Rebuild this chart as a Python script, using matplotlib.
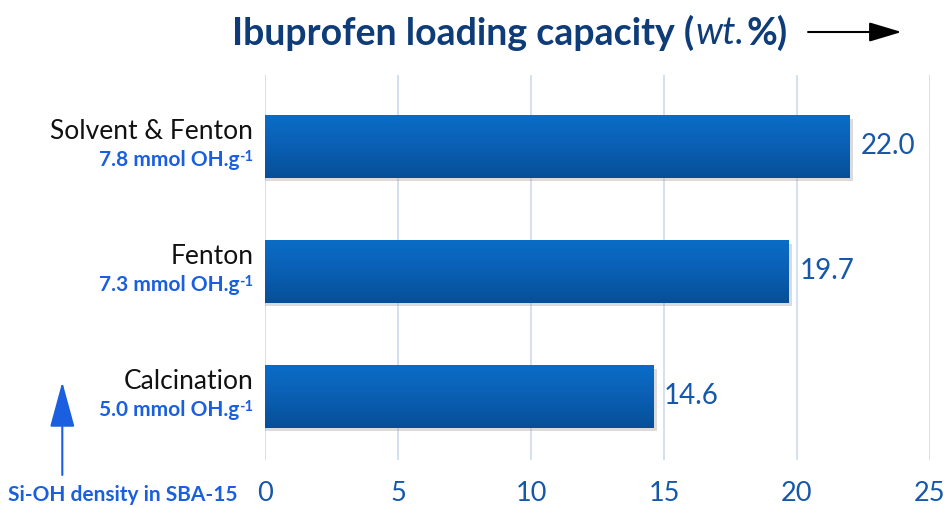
import numpy as np
import matplotlib
matplotlib.use('Agg')
import matplotlib.pyplot as plt
from matplotlib.colors import LinearSegmentedColormap
from matplotlib.patches import FancyArrowPatch

plt.rcParams['font.family'] = ['Lato', 'DejaVu Sans']

# data
methods = ['Calcination', 'Fenton', 'Solvent & Fenton']
oh_density = ['5.0', '7.3', '7.8']
loading = [14.6, 19.7, 22.0]
xticks = [0, 5, 10, 15, 20, 25]

title_col = '#0d3c78'
value_col = '#1557a8'
sub_col = '#1a5fe0'

fig = plt.figure(figsize=(9.44, 5.08), dpi=100)
ax = fig.add_axes([0.281, 0.094, 0.704, 0.758])

bar_h = 0.5
bar_cmap = LinearSegmentedColormap.from_list('bar', ['#0b6cc6', '#0a5fb3', '#064f98'])
grad = np.linspace(0, 1, 64).reshape(-1, 1)

ypos = np.arange(len(methods))
for y, v in zip(ypos, loading):
    # soft shadow
    ax.barh(y - 0.03, v + 0.12, height=bar_h, left=0, color='#999999', alpha=0.35, zorder=2, linewidth=0)
    ax.imshow(grad, extent=[0, v, y - bar_h / 2, y + bar_h / 2], aspect='auto',
              cmap=bar_cmap, origin='upper', zorder=3)
    ax.text(v + 0.4, y, f'{v:.1f}', va='center', ha='left', fontsize=20, color=value_col, zorder=4)

ax.set_xlim(0, 25)
ax.set_ylim(-0.51, 2.57)
ax.set_xticks(xticks)
ax.set_xticklabels([str(t) for t in xticks], fontsize=19.5, color=value_col)
ax.tick_params(axis='x', length=0, pad=15)
ax.set_yticks([])
ax.grid(axis='x', color='#cddcee', linewidth=1.2, zorder=0)
ax.set_axisbelow(True)
for s in ax.spines.values():
    s.set_visible(False)

# category labels with OH density below
for y, name, oh in zip(ypos, methods, oh_density):
    ax.text(-0.45, y + 0.12, name, ha='right', va='center', fontsize=19, color='#111111', clip_on=False)
    sup = ax.text(-0.45, y - 0.085, '-1', ha='right', va='center', fontsize=10.5,
                  fontweight='bold', color=sub_col, clip_on=False)
    ax.annotate(oh + ' mmol OH.g', xy=(0, 0), xycoords=sup, xytext=(0, -4.5), textcoords='offset points',
                ha='right', va='bottom', fontsize=15, fontweight='bold', color=sub_col,
                annotation_clip=False)

# title with arrow, pieces chained one after another
t1 = fig.text(0.246, 0.935, 'Ibuprofen loading capacity (', fontsize=27, fontweight='bold',
              color=title_col, va='center', ha='left')
t2 = ax.annotate('wt.', xy=(1, 0), xycoords=t1, xytext=(1, 0), textcoords='offset points',
                 fontsize=27, style='italic', color=title_col, va='bottom', ha='left',
                 annotation_clip=False)
t3 = ax.annotate('%)', xy=(1, 0), xycoords=t2, xytext=(1, 0), textcoords='offset points',
                 fontsize=27, fontweight='bold', color=title_col, va='bottom', ha='left',
                 annotation_clip=False)
fig.add_artist(FancyArrowPatch((0.856, 0.937), (0.955, 0.937), transform=fig.transFigure,
               arrowstyle='-|>,head_length=1.0,head_width=0.3', mutation_scale=20,
               color='black', lw=1.5, shrinkA=0, shrinkB=0))

# left arrow: Si-OH density
fig.add_artist(FancyArrowPatch((0.066, 0.065), (0.066, 0.248), transform=fig.transFigure,
               arrowstyle='-|>,head_length=1.1,head_width=0.3', mutation_scale=26,
               color=sub_col, lw=1.5, shrinkA=0, shrinkB=0))
fig.text(0.009, 0.025, 'Si-OH density in SBA-15', fontsize=15, fontweight='bold', color=sub_col,
         va='center', ha='left')

fig.savefig('out.png', dpi=100)
